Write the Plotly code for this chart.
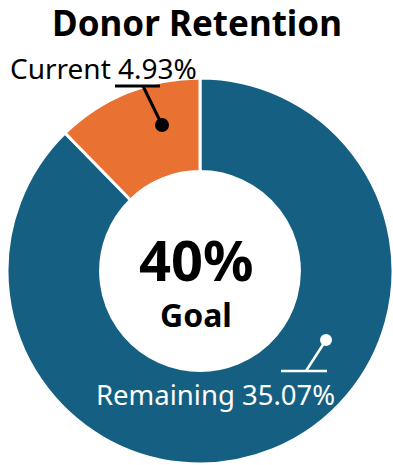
import plotly.graph_objects as go

# ---- data ----
labels = ["Current", "Remaining"]
values = [4.93, 35.07]
colors = ["#E97132", "#156082"]
goal_text = "40%"
goal_label = "Goal"
title_text = "Donor Retention"

W, H = 393, 465
ML, MR, MT, MB = 7, 0, 78, 1
PW, PH = W - ML - MR, H - MT - MB


def px(x):
    return (x - ML) / PW


def py(y):
    return (H - MB - y) / PH


FONT = "Noto Sans"

# draw clockwise from 12 o'clock: Remaining first so Current ends at 12 o'clock
fig = go.Figure(go.Pie(
    labels=labels[::-1], values=values[::-1], hole=0.515, sort=False,
    direction="clockwise", rotation=0,
    marker=dict(colors=colors[::-1], line=dict(color="white", width=3)),
    textinfo="none", hoverinfo="label+value", showlegend=False,
))

shapes = []
annotations = []

# Current label + leader
pct_cur = f"{values[0]:.2f}%"
pct_rem = f"{values[1]:.2f}%"
annotations.append(dict(x=px(8), y=py(68), xref="paper", yref="paper", xanchor="left",
                        yanchor="middle", text=f"{labels[0]} {pct_cur}", showarrow=False,
                        font=dict(family=FONT, size=28, color="black")))
shapes += [
    dict(type="line", xref="paper", yref="paper", x0=px(115), x1=px(160), y0=py(86), y1=py(86),
         line=dict(color="black", width=3)),
    dict(type="line", xref="paper", yref="paper", x0=px(143), x1=px(162), y0=py(86), y1=py(125),
         line=dict(color="black", width=3)),
    dict(type="circle", xref="paper", yref="paper", x0=px(155), x1=px(169), y0=py(118), y1=py(132),
         fillcolor="black", line=dict(color="black", width=0)),
]

# Remaining label + leader
annotations.append(dict(x=px(94), y=py(394), xref="paper", yref="paper", xanchor="left",
                        yanchor="middle", text=f"{labels[1]} {pct_rem}", showarrow=False,
                        font=dict(family=FONT, size=27.5, color="white")))
shapes += [
    dict(type="line", xref="paper", yref="paper", x0=px(281), x1=px(327), y0=py(371), y1=py(371),
         line=dict(color="white", width=2.5)),
    dict(type="line", xref="paper", yref="paper", x0=px(306), x1=px(326), y0=py(371), y1=py(340),
         line=dict(color="white", width=2.5)),
    dict(type="circle", xref="paper", yref="paper", x0=px(320), x1=px(332), y0=py(334), y1=py(346),
         fillcolor="white", line=dict(color="white", width=0)),
]

# Center text
annotations.append(dict(x=px(196), y=py(259), xref="paper", yref="paper", text=f"<b>{goal_text}</b>",
                        showarrow=False, font=dict(family=FONT, size=56, color="black")))
annotations.append(dict(x=px(196), y=py(314), xref="paper", yref="paper", text=f"<b>{goal_label}</b>",
                        showarrow=False, font=dict(family=FONT, size=32, color="black")))

fig.update_layout(
    width=W, height=H,
    margin=dict(l=ML, r=MR, t=MT, b=MB),
    paper_bgcolor="white", plot_bgcolor="white",
    title=dict(text=f"<b>{title_text}</b>", x=197 / W, xanchor="center",
               y=1 - 24 / H, yanchor="middle", yref="container",
               font=dict(family=FONT, size=35, color="black")),
    shapes=shapes, annotations=annotations,
)

fig.write_html("out.html")
